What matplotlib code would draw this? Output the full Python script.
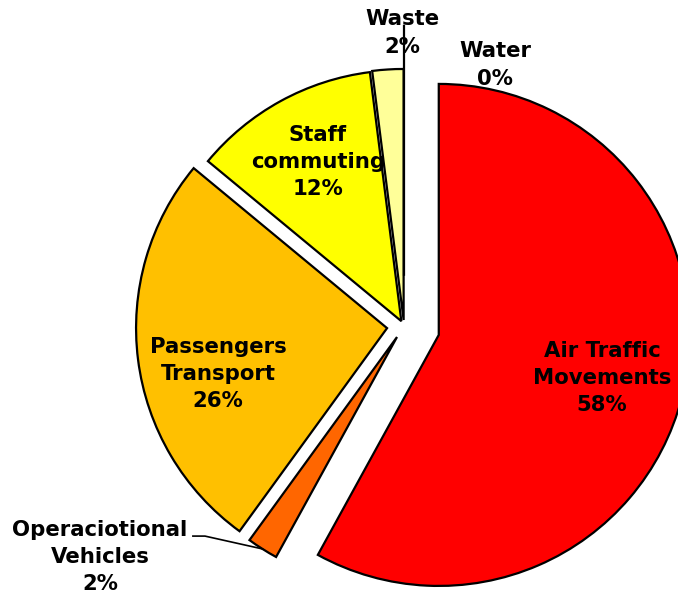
import numpy as np
import matplotlib.pyplot as plt

# emission sources and their share (%)
sources = ['Air Traffic\nMovements', 'Operaciotional\nVehicles', 'Passengers\nTransport',
           'Staff\ncommuting', 'Waste', 'Water']
shares = [58, 2, 26, 12, 2, 0]
colors = ['#FF0000', '#FF6600', '#FFC000', '#FFFF00', '#FFFF99', '#FFFFFF']
explode = [0.143, 0.052, 0.068, 0.022, 0.024, 0.2]

# where each label sits (data units, pie radius = 1)
label_xy = [(0.789, -0.207), (-1.211, -0.920), (-0.741, -0.191),
            (-0.343, 0.653), (-0.008, 1.167), (0.363, 1.040)]

fig = plt.figure(figsize=(6.78, 6.01), dpi=100)
ax = fig.add_axes([0, 0, 1, 1])

wedges, _ = ax.pie(shares, colors=colors, explode=explode, startangle=90,
                   counterclock=False, radius=1,
                   wedgeprops=dict(edgecolor='black', linewidth=1.6))

for name, val, (x, y) in zip(sources, shares, label_xy):
    ax.text(x, y, f'{name}\n{val}%', ha='center', va='center', fontsize=15.3,
            fontweight='bold', linespacing=1.45, color='black')

# leader line from the vehicles label to its slice
w = wedges[1]
mid = np.deg2rad((w.theta1 + w.theta2) / 2)
cx, cy = w.center
end = (cx + w.r * np.cos(mid), cy + w.r * np.sin(mid))
ax.plot([-0.841, -0.793, end[0]], [-0.837, -0.837, end[1]], color='black', lw=1.2)

ax.set_xlim(-404 / 251, (678 - 404) / 251)
ax.set_ylim(-(601 - 326) / 251, 326 / 251)
ax.axis('off')

fig.savefig('out.png', dpi=100)
